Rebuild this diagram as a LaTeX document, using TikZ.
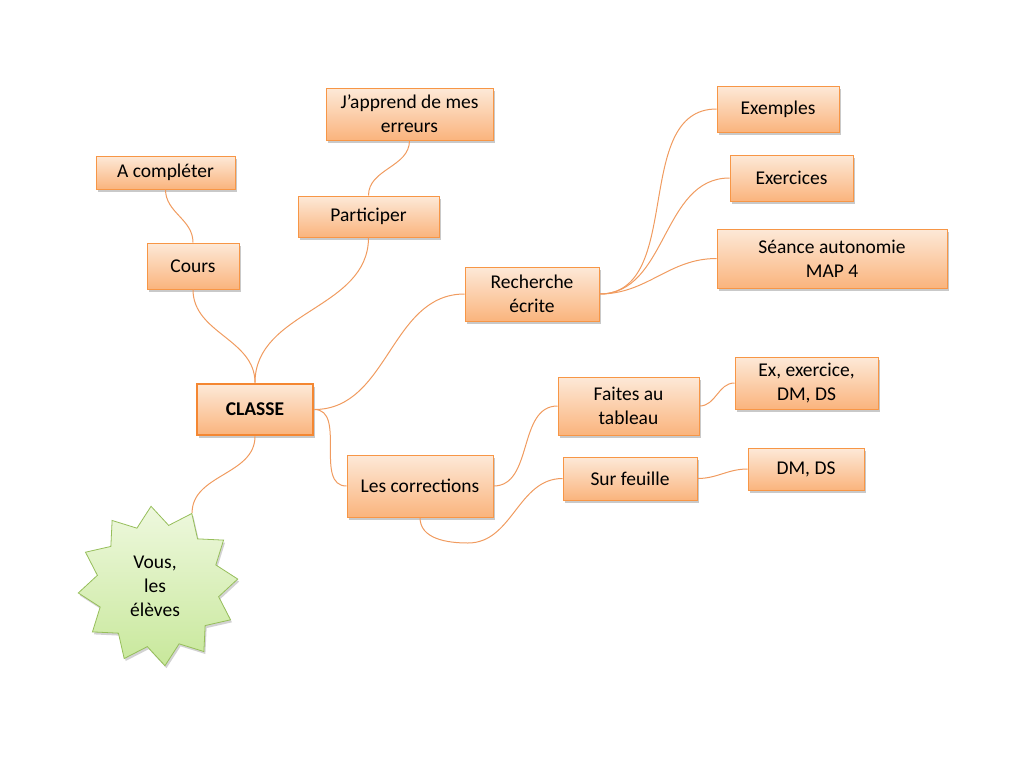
\documentclass[tikz,border=0pt]{standalone}
\usepackage{fontspec}
\setmainfont{Carlito}
\usetikzlibrary{shapes.geometric,shadows}
\definecolor{obord}{RGB}{247,150,70}
\definecolor{obordd}{RGB}{244,135,50}
\definecolor{otop}{RGB}{253,233,216}
\definecolor{obot}{RGB}{250,180,125}
\definecolor{oline}{RGB}{240,155,95}
\definecolor{gtop}{RGB}{238,248,222}
\definecolor{gbot}{RGB}{200,232,155}
\definecolor{gbord}{RGB}{150,190,90}
\begin{document}
\begin{tikzpicture}[x=1pt,y=1pt,
  box/.style={rectangle, draw=obord, line width=1pt, top color=otop, bottom color=obot,
    inner sep=0pt, align=center, font=\fontsize{19.5}{24}\selectfont,
    drop shadow={shadow xshift=1.5pt, shadow yshift=-2.5pt, opacity=0.3, fill=black!70}},
  conn/.style={draw=oline, line width=1pt},
  ]
\useasboundingbox (0,0) rectangle (1024,-768);

\node[box, draw=obordd, line width=2.6pt, minimum width=116pt, minimum height=51pt, font=\fontsize{19.5}{24}\selectfont\bfseries] (classe) at (255,-409.5) {CLASSE};
\node[box, minimum width=92pt, minimum height=46pt] (cours) at (193,-266) {Cours};
\node[box, minimum width=139pt, minimum height=33pt] (acomp) at (165.5,-172.5) {A compléter};
\node[box, minimum width=141pt, minimum height=41pt] (partic) at (368.5,-216.5) {Participer};
\node[box, minimum width=167pt, minimum height=52pt] (japp) at (409.5,-114) {J’apprend de mes\\erreurs};
\node[box, minimum width=134pt, minimum height=54pt] (rech) at (532,-294) {Recherche\\écrite};
\node[box, minimum width=122pt, minimum height=46pt] (exemples) at (778,-109) {Exemples};
\node[box, minimum width=123pt, minimum height=46pt] (exercices) at (791.5,-178) {Exercices};
\node[box, minimum width=230pt, minimum height=59pt] (seance) at (832,-258.5) {Séance autonomie\\MAP 4};
\node[box, minimum width=141pt, minimum height=58pt] (faites) at (628.5,-406) {Faites au\\tableau};
\node[box, minimum width=143pt, minimum height=52pt] (exds) at (806.5,-383) {Ex, exercice,\\DM, DS};
\node[box, minimum width=146pt, minimum height=62pt] (corr) at (420,-486) {Les corrections};
\node[box, minimum width=134pt, minimum height=43pt] (surf) at (630,-478.5) {Sur feuille};
\node[box, minimum width=116pt, minimum height=42pt] (dmds) at (806,-469) {DM, DS};

\node[star, star points=12, star point ratio=1.3, shape border rotate=5, minimum size=160pt, inner sep=0pt,
  draw=gbord, line width=0.8pt, top color=gtop, bottom color=gbot,
  drop shadow={shadow xshift=1.5pt, shadow yshift=-2.5pt, opacity=0.25, fill=black!70}] (star) at (158,-586) {};
\node[align=center, font=\fontsize{19.5}{24}\selectfont, inner sep=0pt] (startext) at (155,-586) {Vous,\\les\\élèves};

\coordinate (sfbend) at (468,-543);

\draw[conn] (classe.north) to[out=90,in=-90] (cours.south);
\draw[conn] (cours.north) to[out=90,in=-90] (acomp.south);
\draw[conn] (classe.north) to[out=90,in=-90] (partic.south);
\draw[conn] (partic.north) to[out=90,in=-90] (japp.south);
\draw[conn] (classe.east) to[out=0,in=180] (rech.west);
\draw[conn] (rech.east) to[out=0,in=180] (exemples.west);
\draw[conn] (rech.east) to[out=0,in=180] (exercices.west);
\draw[conn] (rech.east) to[out=0,in=180] (seance.west);
\draw[conn] (classe.east) to[out=0,in=180] (corr.west);
\draw[conn] (corr.east) to[out=0,in=180] (faites.west);
\draw[conn] (corr.south) to[out=-90,in=180] (sfbend) to[out=0,in=180] (surf.west);
\draw[conn] (faites.east) to[out=0,in=180] (exds.west);
\draw[conn] (surf.east) to[out=0,in=180] (dmds.west);
\draw[conn] (classe.south) to[out=-90,in=90] (star.65);
\end{tikzpicture}
\end{document}
